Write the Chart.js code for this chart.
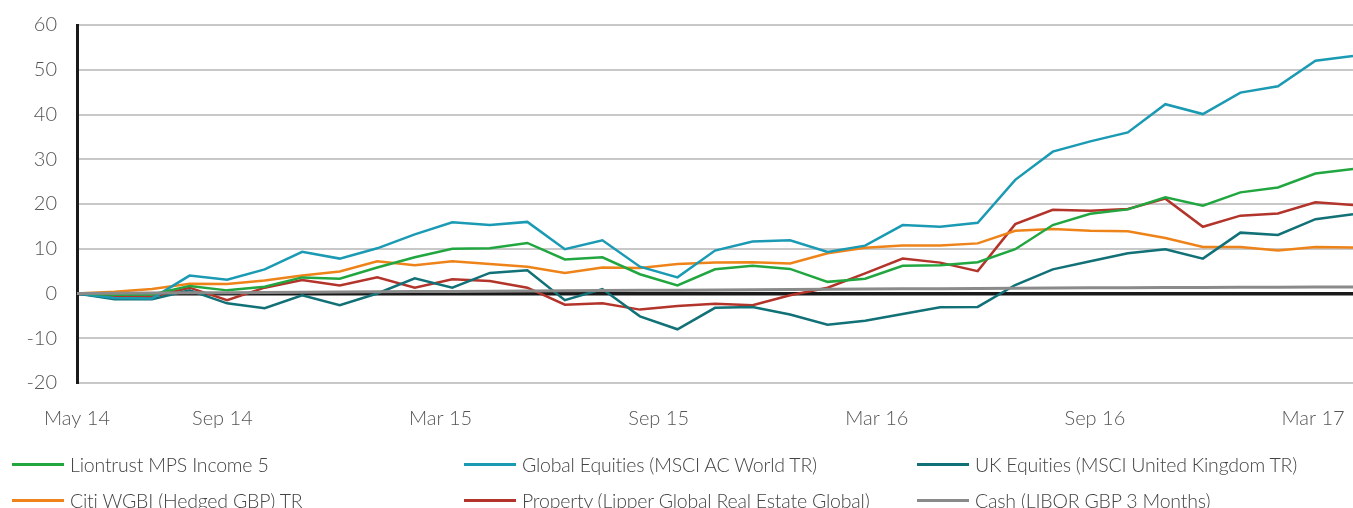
<!DOCTYPE html>
<html>
<head>
<meta charset="utf-8">
<script src="https://cdn.jsdelivr.net/npm/chart.js@4.4.1/dist/chart.umd.min.js"></script>
<style>
  html, body { margin: 0; padding: 0; background: #fff; }
  body { width: 1353px; height: 508px; position: relative; overflow: hidden; font-family: Lato, "Open Sans", sans-serif; }
  #wrap { position: absolute; left: 0; top: 0; width: 1353px; height: 440px; }
  #legend { position: absolute; left: 0; top: 0; width: 1353px; height: 508px; pointer-events: none; }
  .item { position: absolute; height: 24px; display: flex; align-items: center; white-space: nowrap; }
  .swatch { display: inline-block; width: 52px; height: 3px; margin-right: 6px; }
  .txt { font-size: 19.5px; font-weight: 300; color: #444; letter-spacing: -0.2px; }
</style>
</head>
<body>
<div id="wrap"><canvas id="c"></canvas></div>
<div id="legend"></div>
<script>
// ---- data ----
const categories = ['May 14','Jun 14','Jul 14','Aug 14','Sep 14','Oct 14','Nov 14','Dec 14','Jan 15','Feb 15','Mar 15','Apr 15','May 15','Jun 15','Jul 15','Aug 15','Sep 15','Oct 15','Nov 15','Dec 15','Jan 16','Feb 16','Mar 16','Apr 16','May 16','Jun 16','Jul 16','Aug 16','Sep 16','Oct 16','Nov 16','Dec 16','Jan 17','Feb 17','Mar 17'];

const tickLabels = ['May 14','Sep 14','Mar 15','Sep 15','Mar 16','Sep 16','Mar 17'];
const tickMonths = [0, 4, 10, 16, 22, 28, 34];

const liontrust = [0,-0.3,-0.2,1.7,0.7,1.5,3.6,3.3,5.8,8.1,10.0,10.1,11.3,7.6,8.1,4.3,1.8,5.4,6.2,5.5,2.6,3.3,6.2,6.3,7.0,9.9,15.3,17.8,18.8,21.5,19.6,22.6,23.7,26.8,27.8];
const globalEq  = [0,-1.0,-1.1,4.0,3.1,5.4,9.3,7.8,10.1,13.2,15.9,15.3,16.0,9.9,11.9,6.0,3.6,9.6,11.6,11.9,9.3,10.7,15.3,14.9,15.8,25.4,31.7,34.0,36.0,42.3,40.1,44.9,46.3,52.0,53.1];
const ukEq      = [0,-1.3,-1.3,0.7,-2.2,-3.3,-0.4,-2.6,0.0,3.4,1.3,4.6,5.2,-1.5,1.0,-5.1,-8.0,-3.2,-3.0,-4.7,-7.0,-6.1,-4.6,-3.1,-3.0,1.9,5.4,7.2,9.0,9.9,7.8,13.6,13.1,16.6,17.7];
const citiWgbi  = [0,0.4,1.0,2.2,2.1,2.9,4.0,4.9,7.2,6.3,7.2,6.6,6.0,4.6,5.8,5.7,6.6,6.9,7.0,6.7,9.0,10.2,10.7,10.7,11.2,14.0,14.4,14.0,13.9,12.4,10.4,10.4,9.6,10.4,10.3];
const property  = [0,-0.7,-0.7,1.3,-1.5,1.3,3.0,1.8,3.6,1.3,3.2,2.8,1.3,-2.5,-2.2,-3.6,-2.8,-2.3,-2.6,-0.4,1.3,4.5,7.8,6.9,5.0,15.5,18.7,18.5,18.9,21.2,14.9,17.4,17.9,20.4,19.8];
const cash      = [0,0.05,0.09,0.14,0.19,0.23,0.28,0.33,0.37,0.42,0.47,0.51,0.56,0.61,0.66,0.70,0.75,0.80,0.85,0.89,0.94,0.99,1.04,1.08,1.13,1.18,1.22,1.27,1.30,1.33,1.36,1.39,1.42,1.45,1.48];

const seriesNames = ['Liontrust MPS Income 5','Global Equities (MSCI AC World TR)','UK Equities (MSCI United Kingdom TR)','Citi WGBI (Hedged GBP) TR','Property (Lipper Global Real Estate Global)','Cash (LIBOR GBP 3 Months)'];
const seriesColors = ['#21a640','#1b9ab4','#117177','#ee8419','#b3342a','#8a8a8a'];
const seriesData = [liontrust, globalEq, ukEq, citiWgbi, property, cash];

const datasets = seriesData.map((d, i) => ({
  label: seriesNames[i],
  data: d,
  borderColor: seriesColors[i],
  backgroundColor: seriesColors[i],
  borderWidth: i === 5 ? 3 : 2.5,
  pointRadius: 0,
  tension: 0,
  fill: false,
  order: i === 5 ? 0 : i + 1
}));

const fontFam = 'Lato, "Open Sans", sans-serif';

const chart = new Chart(document.getElementById('c'), {
  type: 'line',
  data: { labels: categories, datasets },
  options: {
    responsive: true,
    maintainAspectRatio: false,
    animation: false,
    layout: { padding: { top: 25, right: 0, bottom: 7, left: 0 } },
    plugins: { legend: { display: false }, tooltip: { enabled: false } },
    scales: {
      x: { type: 'category', display: false, offset: false },
      xl: {
        type: 'linear', position: 'bottom', min: 0, max: 35.1,
        grid: { display: false, drawTicks: false },
        border: { display: false },
        afterBuildTicks: (s) => { s.ticks = tickMonths.map(v => ({ value: v })); },
        afterFit: (s) => { s.height = 50; s.paddingLeft = 0; s.paddingRight = 0; },
        ticks: {
          padding: 24,
          maxRotation: 0,
          autoSkip: false,
          color: '#555',
          font: { family: fontFam, size: 20, weight: 300 },
          callback: (v) => { const k = tickMonths.indexOf(v); return k >= 0 ? tickLabels[k] : ''; }
        }
      },
      y: {
        min: -20, max: 60,
        afterFit: (s) => { s.width = 77; s.paddingTop = 0; s.paddingBottom = 0; },
        border: { display: true, color: '#1a1a1a', width: 3 },
        grid: {
          drawTicks: false,
          color: (c) => c.tick && c.tick.value === 0 ? '#1a1a1a' : '#c8c8c8',
          lineWidth: (c) => c.tick && c.tick.value === 0 ? 3.5 : 2
        },
        ticks: {
          stepSize: 10,
          padding: 20,
          color: '#555',
          font: { family: fontFam, size: 20, weight: 300 }
        }
      }
    }
  }
});

// HTML legend built from the chart's datasets
const legendPos = [[12, 464], [464, 464], [917, 464], [12, 500], [464, 500], [917, 500]];
const lg = document.getElementById('legend');
chart.data.datasets.forEach((ds, k) => {
  const el = document.createElement('div');
  el.className = 'item';
  el.style.left = legendPos[k][0] + 'px';
  el.style.top = (legendPos[k][1] - 12) + 'px';
  el.innerHTML = '<span class="swatch" style="background:' + ds.borderColor + '"></span><span class="txt"></span>';
  el.querySelector('.txt').textContent = ds.label;
  lg.appendChild(el);
});
</script>
</body>
</html>
